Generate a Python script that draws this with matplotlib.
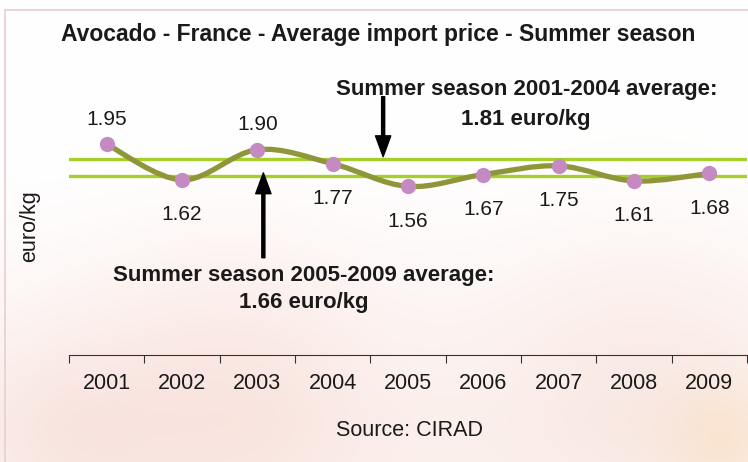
import numpy as np
import matplotlib
matplotlib.use("Agg")
from matplotlib import pyplot as plt
from matplotlib.path import Path
from matplotlib.patches import PathPatch, Rectangle

plt.rcParams['font.family'] = ['Liberation Sans', 'DejaVu Sans']

years = ['2001', '2002', '2003', '2004', '2005', '2006', '2007', '2008', '2009']
prices = [1.95, 1.62, 1.90, 1.77, 1.56, 1.67, 1.75, 1.61, 1.68]
avg_2001_2004 = 1.81
avg_2005_2009 = 1.66

W, H = 748, 462
fig = plt.figure(figsize=(W / 100, H / 100), dpi=100)

# faded photo-like background (very pale pink / peach towards the bottom)
bg = fig.add_axes([0, 0, 1, 1], zorder=-10)
yy, xx = np.mgrid[0:H, 0:W]
img = np.ones((H, W, 3))
fade = np.clip((yy - 170) / 250.0, 0, 1)[..., None]
img = img - fade * np.array([0.012, 0.045, 0.055])
for cx, cy, r, col in [(230, 400, 110, (0.01, 0.06, 0.07)),
                       (640, 380, 110, (0.01, 0.045, 0.055)),
                       (725, 440, 40, (0.0, 0.03, 0.09)),
                       (60, 430, 70, (0.01, 0.04, 0.045))]:
    g = np.exp(-((xx - cx) ** 2 + (yy - cy) ** 2) / (2 * r ** 2))[..., None]
    img = img - g * np.array(col)
bg.imshow(np.clip(img, 0, 1), aspect='auto', extent=[0, 1, 0, 1])
bg.set_axis_off()
fig.patches.append(Rectangle((4.5 / W, -0.1), 1.2, 1.1 - 9.5 / H,
                             transform=fig.transFigure, fill=False,
                             edgecolor='#e8cfcf', lw=1.2))

ax = fig.add_axes([69 / W, 1 - 355 / H, 678 / W, 281 / H])
ax.set_facecolor('none')
x = np.arange(len(years))
ax.set_xlim(-0.5, len(years) - 0.5)
ax.set_ylim(0, 2.6)

# average lines
ax.axhline(avg_2001_2004, color='#a6cf2c', lw=2.4, zorder=2)
ax.axhline(avg_2005_2009, color='#a6cf2c', lw=2.4, zorder=2)

# smoothed line (Excel style bezier through the points)
pts = np.column_stack([x, prices]).astype(float)
ext = np.vstack([pts[0], pts, pts[-1]])
verts = [tuple(pts[0])]
codes = [Path.MOVETO]
for i in range(len(pts) - 1):
    p0, p1, p2, p3 = ext[i], ext[i + 1], ext[i + 2], ext[i + 3]
    verts += [tuple(p1 + (p2 - p0) / 6), tuple(p2 - (p3 - p1) / 6), tuple(p2)]
    codes += [Path.CURVE4] * 3
ax.add_patch(PathPatch(Path(verts, codes), facecolor='none',
                       edgecolor='#8f963a', lw=3.8, zorder=3, capstyle='round'))
ax.plot(x, prices, 'o', color='#c68ac2', ms=11, mec='none', zorder=4)

for i, v in enumerate(prices):
    off = 18 if v > 1.85 else -25
    ax.annotate(f'{v:.2f}', (i, v), xytext=(0, off), textcoords='offset points',
                ha='center', va='center', fontsize=15, color='#1a1a1a')

# arrows and notes
arrow = dict(facecolor='black', edgecolor='black', width=2.2, headwidth=11,
             headlength=15, shrink=0)
ax.annotate('', xy=(3.67, 1.835), xytext=(3.67, 2.39), arrowprops=arrow,
            annotation_clip=False, zorder=5)
ax.annotate('', xy=(2.08, 1.685), xytext=(2.08, 0.90), arrowprops=arrow,
            annotation_clip=False, zorder=5)
note = dict(ha='center', va='center', fontsize=16, fontweight='bold', color='#1a1a1a')
ax.text(5.58, 2.46, 'Summer season 2001-2004 average:', **note)
ax.text(5.56, 2.18, '1.81 euro/kg', **note)
ax.text(2.61, 0.74, 'Summer season 2005-2009 average:', **note)
ax.text(2.61, 0.49, '1.66 euro/kg', **note)

for s in ['top', 'right', 'left']:
    ax.spines[s].set_visible(False)
ax.spines['bottom'].set_color('#333333')
ax.set_yticks([])
ax.set_xticks(np.arange(-0.5, len(years), 1))
ax.set_xticklabels([])
ax.tick_params(axis='x', length=6, color='#333333', direction='out')
for i, yl in enumerate(years):
    ax.text(i, -0.165, yl, ha='center', va='top', fontsize=15.5, color='#1a1a1a')

fig.text(30 / W, 1 - 226 / H, 'euro/kg', rotation=90, ha='center', va='center',
         fontsize=15.5, color='#1a1a1a')
fig.text(378 / W, 1 - 35 / H, 'Avocado - France - Average import price - Summer season',
         ha='center', va='center', fontsize=16.5, fontweight='bold', color='#1a1a1a')
fig.text(409 / W, 1 - 431 / H, 'Source: CIRAD', ha='center', va='center',
         fontsize=15.5, color='#1a1a1a')

fig.savefig('out.png', dpi=100)
